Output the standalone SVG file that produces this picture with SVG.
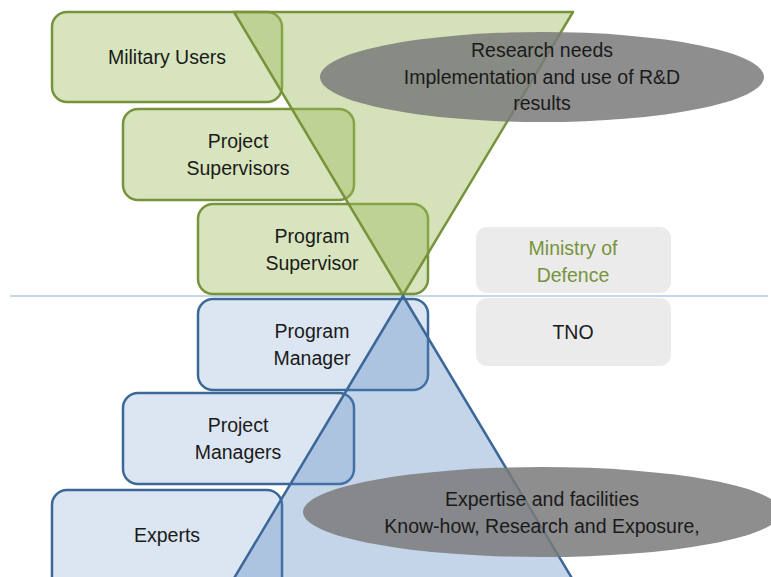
<svg xmlns="http://www.w3.org/2000/svg" width="771" height="577" viewBox="0 0 771 577">
<style>
text{font-family:"Liberation Sans",Arial,sans-serif;font-size:19.5px;fill:#1a1a1a;text-anchor:middle}
.g{fill:#d7e4bd;stroke:#77933c;stroke-width:2.5}
.b{fill:#dce6f2;stroke:#3c6898;stroke-width:2.5}
.gt{fill:#9bbb59;fill-opacity:0.42;stroke:#77933c;stroke-width:2.5;stroke-linejoin:round}
.bt{fill:#4f81bd;fill-opacity:0.33;stroke:#3c6898;stroke-width:2.5}
.el{fill:#7a7a7a;fill-opacity:0.85}
.org{fill:#ebebeb}
</style>
<rect width="771" height="577" fill="#ffffff"/>
<line x1="10" y1="296" x2="768" y2="296" stroke="#c5d7ea" stroke-width="2"/>
<g id="mod"><rect class="org" x="476" y="227" width="195" height="66" rx="11"/><text x="573" y="255" style="fill:#77933c">Ministry of</text><text x="573" y="282" style="fill:#77933c">Defence</text></g>
<g id="tno"><rect class="org" x="476" y="298" width="195" height="68" rx="11"/><text x="573" y="339">TNO</text></g>
<g id="military-users"><rect class="g" x="52" y="12" width="230" height="90" rx="15"/><text x="167" y="64">Military Users</text></g>
<g id="project-supervisors"><rect class="g" x="123" y="109" width="231" height="91" rx="15"/><text x="238" y="148">Project</text><text x="238" y="175">Supervisors</text></g>
<g id="program-supervisor"><rect class="g" x="198" y="204" width="230" height="90" rx="15"/><text x="312" y="243">Program</text><text x="312" y="270">Supervisor</text></g>
<g id="program-manager"><rect class="b" x="198" y="299" width="230" height="91" rx="15"/><text x="312" y="338">Program</text><text x="312" y="365">Manager</text></g>
<g id="project-managers"><rect class="b" x="123" y="393" width="231" height="91" rx="15"/><text x="238" y="432">Project</text><text x="238" y="459">Managers</text></g>
<g id="experts"><rect class="b" x="52" y="490" width="230" height="110" rx="15"/><text x="167" y="542">Experts</text></g>
<g id="connectors">
<polygon class="gt" points="234,12 573,12 403,295"/>
<polygon class="bt" points="403,296 221,600 585,600"/>
</g>
<g id="research-needs"><ellipse class="el" cx="542" cy="77" rx="222" ry="45"/><text x="542" y="57">Research needs</text><text x="542" y="84">Implementation and use of R&amp;D</text><text x="542" y="110">results</text></g>
<g id="expertise"><ellipse class="el" cx="542" cy="512" rx="239" ry="45"/><text x="542" y="506">Expertise and facilities</text><text x="542" y="533">Know-how, Research and Exposure,</text></g>
</svg>
